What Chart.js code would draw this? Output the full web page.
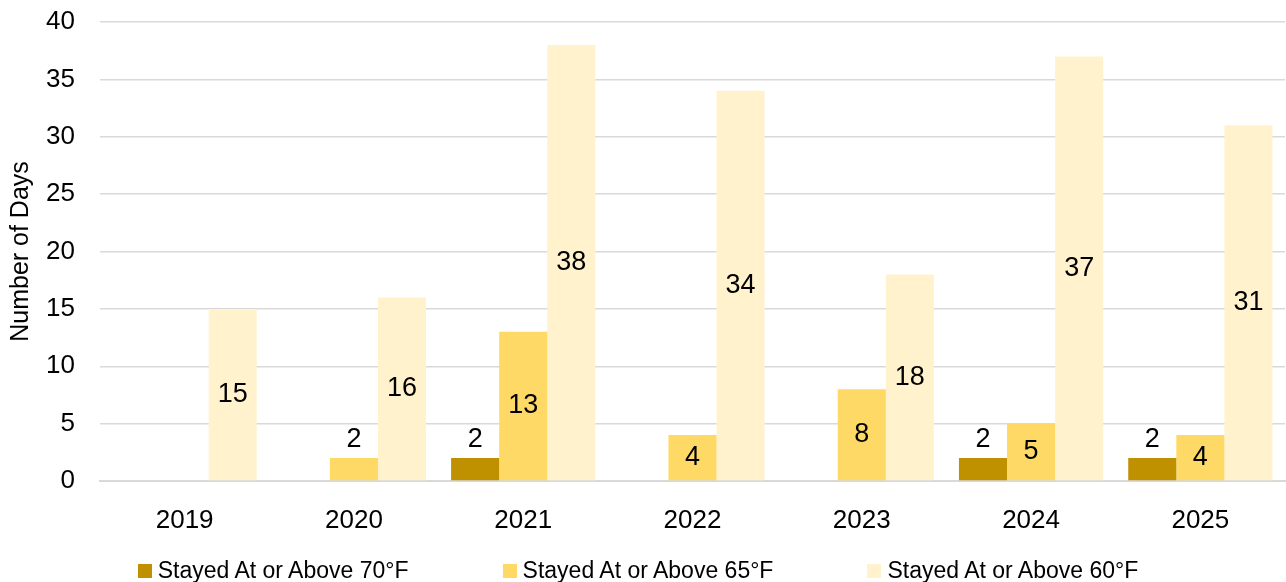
<!DOCTYPE html>
<html>
<head>
<meta charset="utf-8">
<script src="https://cdn.jsdelivr.net/npm/chart.js@4/dist/chart.umd.min.js"></script>
<style>
  html, body { margin: 0; padding: 0; background: #fff; }
  #wrap { position: relative; width: 1286px; height: 582px; }
  #legend {
    position: absolute; left: 0; right: 10px; top: 557px;
    display: flex; justify-content: center; gap: 94px;
    font: 23px 'Liberation Sans', Arial, sans-serif; color: #000;
  }
  #legend span.item { display: flex; align-items: center; white-space: nowrap; }
  #legend span.box { width: 14px; height: 14px; margin-right: 6px; display: inline-block; }
</style>
</head>
<body>
<div id="wrap">
  <canvas id="grafica" width="1286" height="582"></canvas>
  <div id="legend"></div>
</div>
<script>
'use strict';

const YEARS     = ['2019', '2020', '2021', '2022', '2023', '2024', '2025'];
const DAYS_70F  = [0, 0, 2, 0, 0, 2, 2];
const DAYS_65F  = [0, 2, 13, 4, 8, 5, 4];
const DAYS_60F  = [15, 16, 38, 34, 18, 37, 31];
const Y_TICKS   = [0, 5, 10, 15, 20, 25, 30, 35, 40];

const FONT = "'Liberation Sans', Arial, sans-serif";

// labels in the middle of the bar, or just above it when the bar is too short
const barLabels = {
  id: 'barLabels',
  afterDatasetsDraw(chart) {
    const ctx = chart.ctx;
    ctx.save();
    ctx.font = '27px ' + FONT;
    ctx.fillStyle = '#000';
    ctx.textAlign = 'center';
    ctx.textBaseline = 'middle';
    chart.data.datasets.forEach((ds, di) => {
      chart.getDatasetMeta(di).data.forEach((bar, i) => {
        const v = ds.data[i];
        if (!v) return;
        const h = bar.base - bar.y;
        const y = h < 30 ? bar.y - 19 : bar.y + h / 2;
        ctx.fillText(String(v), bar.x, y);
      });
    });
    ctx.restore();
  }
};

const chart = new Chart(document.getElementById('grafica'), {
  type: 'bar',
  data: {
    labels: YEARS,
    datasets: [
      { label: 'Stayed At or Above 70°F', data: DAYS_70F, backgroundColor: '#bf9000' },
      { label: 'Stayed At or Above 65°F', data: DAYS_65F, backgroundColor: '#ffd966' },
      { label: 'Stayed At or Above 60°F', data: DAYS_60F, backgroundColor: '#fff2cc' }
    ]
  },
  options: {
    responsive: false,
    animation: false,
    layout: { padding: { top: 22, right: 1, left: 3, bottom: 41 } },
    datasets: { bar: { barPercentage: 1, categoryPercentage: 0.852 } },
    plugins: {
      tooltip: { enabled: false },
      legend: { display: false }
    },
    scales: {
      x: {
        afterFit(axis) { axis.height = 60; },
        grid: { display: false },
        border: { display: true, color: '#d9d9d9', width: 2 },
        ticks: { color: '#000', font: { family: FONT, size: 26 }, padding: 16 }
      },
      y: {
        min: 0,
        max: 40,
        afterBuildTicks(axis) { axis.ticks = Y_TICKS.map(v => ({ value: v })); },
        afterFit(axis) { axis.width = 97; axis.paddingTop = 0; axis.paddingBottom = 0; },
        grid: { color: '#d9d9d9', lineWidth: 1.5, drawTicks: false },
        border: { display: false },
        ticks: { color: '#000', font: { family: FONT, size: 26 }, padding: 25 },
        title: { display: true, text: 'Number of Days', color: '#000', font: { family: FONT, size: 25 }, padding: 3 }
      }
    }
  },
  plugins: [barLabels]
});

// legend as plain html, built from the datasets
const legend = document.getElementById('legend');
chart.data.datasets.forEach(ds => {
  const item = document.createElement('span');
  item.className = 'item';
  item.innerHTML = `<span class="box" style="background:${ds.backgroundColor}"></span>${ds.label}`;
  legend.appendChild(item);
});
</script>
</body>
</html>
